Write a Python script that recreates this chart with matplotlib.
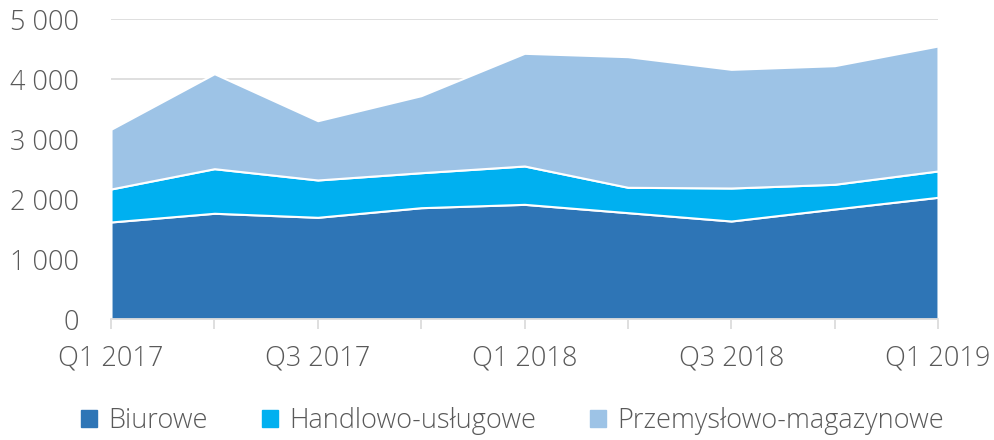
import numpy as np
import matplotlib.pyplot as plt
from matplotlib.ticker import FuncFormatter
from matplotlib.patches import Patch

plt.rcParams['font.family'] = ['Open Sans', 'DejaVu Sans']
plt.rcParams['font.weight'] = 'light'

# quarterly values
quarters = ['Q1 2017', 'Q2 2017', 'Q3 2017', 'Q4 2017', 'Q1 2018',
            'Q2 2018', 'Q3 2018', 'Q4 2018', 'Q1 2019']
biurowe = [1617, 1762, 1695, 1855, 1911, 1772, 1633, 1833, 2028]
handlowe = [550, 743, 622, 583, 639, 423, 550, 412, 439]
przemyslowe = [995, 1583, 988, 1284, 1878, 2177, 1978, 1977, 2083]
names = ['Biurowe', 'Handlowo-usługowe', 'Przemysłowo-magazynowe']
colors = ['#2E75B6', '#00B0F0', '#9DC3E6']

txt = '#595959'
fs = 19.5
fig = plt.figure(figsize=(9.95, 4.4), dpi=100)
ax = fig.add_axes([111/995, 1-319/440, (938-111)/995, 300/440])

x = np.arange(len(quarters))
ax.stackplot(x, biurowe, handlowe, przemyslowe, colors=colors,
             edgecolor='white', linewidth=1.5, zorder=2)

ax.set_xlim(0, len(quarters)-1)
ax.set_ylim(0, 5000)
ax.set_yticks(range(0, 5001, 1000))
ax.yaxis.set_major_formatter(FuncFormatter(lambda v, p: f'{int(v):,}'.replace(',', ' ')))
ax.grid(axis='y', color='#d9d9d9', linewidth=1.2, zorder=0)
ax.set_axisbelow(True)

ax.set_xticks(x)
ax.set_xticklabels([q if i % 2 == 0 else '' for i, q in enumerate(quarters)])

for s in ['top', 'right', 'left']:
    ax.spines[s].set_visible(False)
ax.spines['bottom'].set_color('#d9d9d9')
ax.spines['bottom'].set_linewidth(1.2)

ax.tick_params(axis='y', length=0, pad=23, labelsize=fs, labelcolor=txt)
ax.tick_params(axis='x', length=7, width=1.2, color='#d9d9d9', pad=11,
               labelsize=fs, labelcolor=txt)

handles = [Patch(color=c, label=n) for c, n in zip(colors, names)]
fig.legend(handles=handles, loc='center', bbox_to_anchor=(0.515, 1-421/440),
           ncol=3, frameon=False, fontsize=fs, labelcolor=txt,
           handlelength=0.6, handleheight=0.6, handletextpad=0.4,
           columnspacing=2.0)

fig.savefig('out.png', dpi=100)
